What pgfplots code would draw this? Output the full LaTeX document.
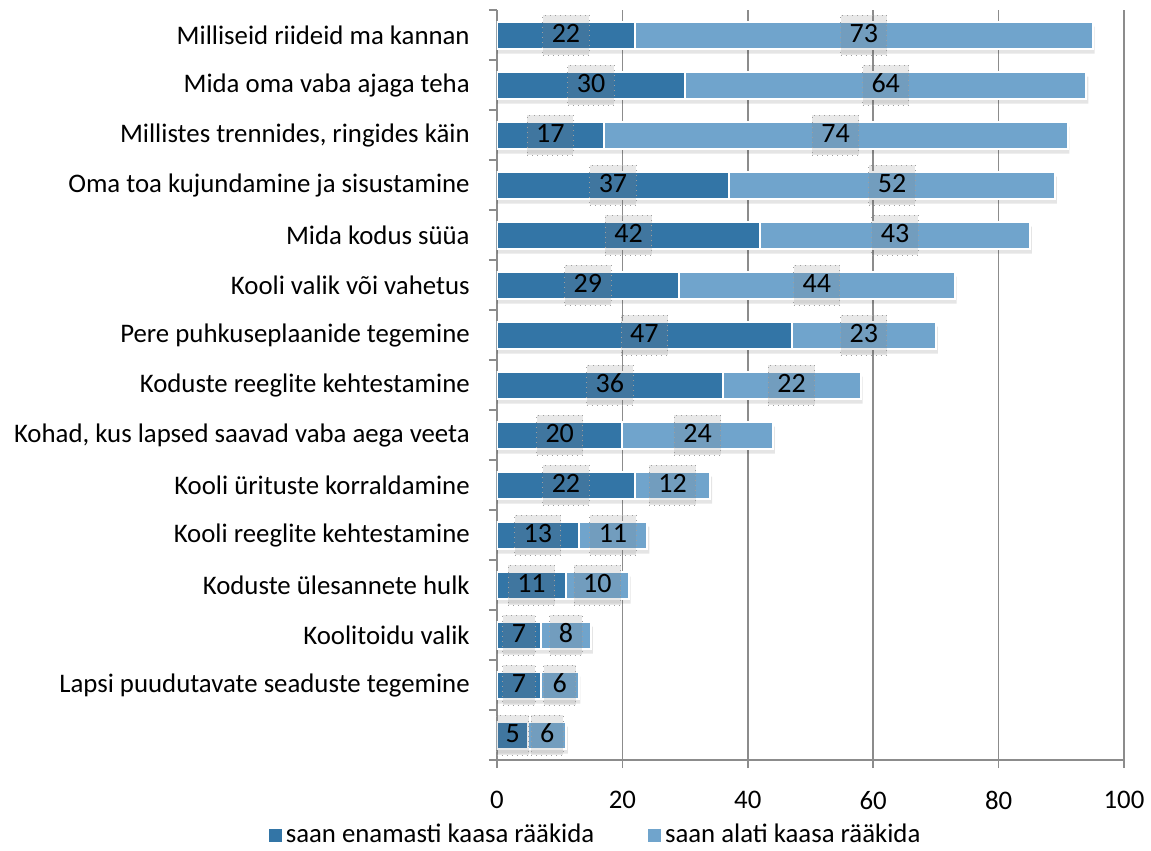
\documentclass[border=0pt]{standalone}
\usepackage{pgfplots}
\pgfplotsset{compat=1.18}
\usepackage{pgfplotstable}
\usepackage{fontspec}
\setmainfont{Carlito}
\definecolor{darkb}{RGB}{51,117,166}
\definecolor{lightb}{RGB}{112,164,204}
\definecolor{gridg}{RGB}{140,140,140}
\pgfplotstableread{
idx a b
0 22 73
1 30 64
2 17 74
3 37 52
4 42 43
5 29 44
6 47 23
7 36 22
8 20 24
9 22 12
10 13 11
11 11 10
12 7 8
13 7 6
14 5 6
}\data
\begin{document}
\fontsize{13.4}{16}\selectfont
\begin{tikzpicture}[font=\fontsize{13.4}{16}\selectfont]
\begin{axis}[
  name=ax,
  scale only axis,
  width=313.5pt, height=375pt,
  xmin=0, xmax=100,
  ymin=-0.5, ymax=14.5,
  y dir=reverse,
  axis x line*=bottom,
  axis y line*=left,
  axis line style={gridg, line width=0.75pt},
  xtick={0,20,...,100},
  xmajorgrids,
  grid style={gridg, line width=0.75pt},
  tick align=outside,
  major tick length=4pt,
  tick style={gridg, line width=0.75pt},
  tick label style={font=\fontsize{13.4}{16}\selectfont},
  xticklabel style={yshift=-7pt},
  /pgf/number format/assume math mode=true,
  ytick={-0.5,0.5,...,14.5},
  yticklabels={},
  extra y ticks={0,1,...,14},
  extra y tick labels={Milliseid riideid ma kannan, Mida oma vaba ajaga teha, {Millistes trennides, ringides käin}, Oma toa kujundamine ja sisustamine, Mida kodus süüa, Kooli valik või vahetus, Pere puhkuseplaanide tegemine, Koduste reeglite kehtestamine, {Kohad, kus lapsed saavad vaba aega veeta\hspace{3.5pt}}, Kooli ürituste korraldamine, Kooli reeglite kehtestamine, {Koduste ülesannete hulk\hspace{3.5pt}}, Koolitoidu valik, Lapsi puudutavate seaduste tegemine, {}},
  extra y tick style={major tick length=0pt, tick label style={xshift=-9pt}},
  extra y tick style={grid=none},
  legend style={at={(rel axis cs:0.159,-0.1)}, anchor=center, draw=none, legend columns=2, font=\fontsize{13.4}{16}\selectfont,
    /tikz/every even column/.append style={column sep=25pt}},
  legend cell align=left,
  every node near coord/.style={anchor=center, font=\fontsize{14}{16}\selectfont, fill=gray, fill opacity=0.18, text opacity=1, draw=gray!75, dotted, line width=0.5pt, inner xsep=4.5pt, minimum height=20pt, text height=9.5pt, text depth=2.5pt, inner ysep=4pt, text=black},
]
% shadow
\addplot[xbar, bar width=0.54, bar shift=-2.5pt, fill=black, fill opacity=0.10, draw=none, forget plot]
  table[x expr=\thisrow{a}+\thisrow{b}+0.3, y=idx] {\data};
\addplot[xbar, bar width=0.54, fill=lightb, draw=white, line width=1pt, forget plot]
  table[x expr=\thisrow{a}+\thisrow{b}, y=idx] {\data};
\addplot[xbar, bar width=0.54, fill=darkb, draw=white, line width=1pt, forget plot]
  table[x=a, y=idx] {\data};
% labels
\addplot[draw=none, mark=none, nodes near coords, point meta=explicit, forget plot]
  table[x expr=\thisrow{a}/2, y=idx, meta=a] {\data};
\addplot[draw=none, mark=none, nodes near coords, point meta=explicit, forget plot]
  table[x expr=\thisrow{a}+\thisrow{b}/2, y=idx, meta=b] {\data};
\addlegendimage{legend image code/.code={\fill[darkb] (0pt,-3pt) rectangle (6pt,3pt);}}
\addlegendentry{saan enamasti kaasa rääkida}
\addlegendimage{legend image code/.code={\fill[lightb] (0pt,-3pt) rectangle (6pt,3pt);}}
\addlegendentry{saan alati kaasa rääkida}
\end{axis}
\pgfresetboundingbox
\path ([shift={(-248.5pt,-45.5pt)}]ax.south west) rectangle ([shift={(13.5pt,5pt)}]ax.north east);
\end{tikzpicture}
\end{document}
